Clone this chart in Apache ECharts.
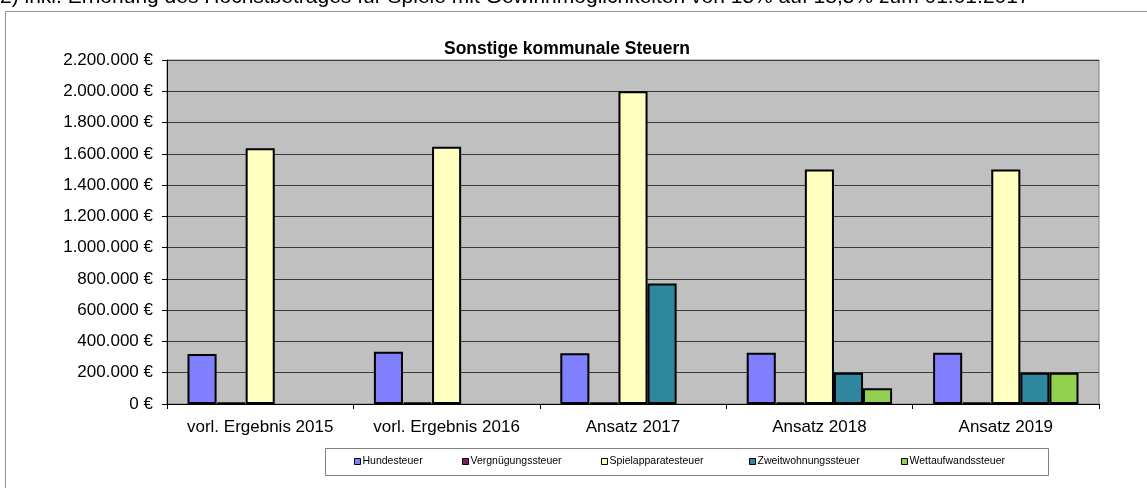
<!DOCTYPE html>
<html><head><meta charset="utf-8">
<script src="https://cdn.jsdelivr.net/npm/echarts@6/dist/echarts.min.js"></script>
<style>html,body{margin:0;padding:0;background:#fff;}#c{width:1147px;height:488px;}</style>
</head><body><div id="c"></div>
<script>
const categories = ['vorl. Ergebnis 2015', 'vorl. Ergebnis 2016', 'Ansatz 2017', 'Ansatz 2018', 'Ansatz 2019'];
const seriesNames = ['Hundesteuer', 'Vergnügungssteuer', 'Spielapparatesteuer', 'Zweitwohnungssteuer', 'Wettaufwandssteuer'];
const hundesteuer = [320000, 334000, 324000, 328000, 328000];
const vergnuegungssteuer = [8000, 8000, 8000, 8000, 8000];
const spielapparatesteuer = [1635000, 1645000, 2000000, 1500000, 1500000];
const zweitwohnungssteuer = [null, null, 770000, 200000, 200000];
const wettaufwandssteuer = [null, null, null, 100000, 200000];
const yTicks = [0, 200000, 400000, 600000, 800000, 1000000, 1200000, 1400000, 1600000, 1800000, 2000000, 2200000];
const titleText = 'Sonstige kommunale Steuern';
const noteText = '2) inkl. Erhöhung des Höchstbetrages für Spiele mit Gewinnmöglichkeiten von 15% auf 18,5% zum 01.01.2017';

const colors = ['#8080FF', '#802060', '#FFFFC0', '#2F879F', '#92D050'];
const values = [hundesteuer, vergnuegungssteuer, spielapparatesteuer, zweitwohnungssteuer, wettaufwandssteuer];
const legendX = [354, 462, 601, 749, 901];
const font = 'Arial, "Liberation Sans", sans-serif';

function fmt(v) {
  return String(v).replace(/\B(?=(\d{3})+(?!\d))/g, '.') + ' €';
}

const chart = echarts.init(document.getElementById('c'));
chart.setOption({
  animation: false,
  textStyle: { fontFamily: font },
  title: {
    text: titleText, left: 562, top: 35, textAlign: 'center',
    textStyle: { fontSize: 17.5, fontWeight: 'bold', color: '#000', fontFamily: font }
  },
  graphic: [
    { type: 'rect', shape: { x: 5.5, y: 11.5, width: 1160, height: 500 }, style: { fill: 'none', stroke: '#909090', lineWidth: 1 }, z: -1 },
    { type: 'text', left: 0, top: -13, style: { text: noteText, fontSize: 21, fill: '#000', fontFamily: font } },
    { type: 'rect', shape: { x: 325.5, y: 448.5, width: 723, height: 27 }, style: { fill: '#fff', stroke: '#808080', lineWidth: 1 }, z: 0 }
  ],
  legend: seriesNames.map((n, i) => ({
    data: [n], left: legendX[i], top: 456, itemWidth: 6, itemHeight: 6, itemGap: 0,
    icon: 'rect', padding: 0, z: 5,
    textStyle: { fontSize: 10.5, color: '#000', fontFamily: font, padding: [0, 0, 0, -3] },
    itemStyle: { borderColor: '#000', borderWidth: 1 }
  })),
  grid: {
    left: 167, right: 48, top: 60, bottom: 84, show: true,
    backgroundColor: '#C0C0C0', borderColor: '#808080', borderWidth: 1
  },
  xAxis: {
    type: 'category', data: categories,
    axisLine: { lineStyle: { color: '#000', width: 1 } },
    axisTick: { show: true, interval: 0, length: 5, lineStyle: { color: '#000' } },
    axisLabel: { interval: 0, fontSize: 17, color: '#000', margin: 15, fontFamily: font }
  },
  yAxis: {
    type: 'value', min: 0, max: yTicks[yTicks.length - 1], interval: yTicks[1] - yTicks[0],
    axisLine: { show: true, lineStyle: { color: '#000', width: 1 } },
    axisTick: { show: true, length: 5, lineStyle: { color: '#000' } },
    axisLabel: { fontSize: 17, color: '#000', margin: 14, formatter: fmt, fontFamily: font },
    splitLine: { show: true, lineStyle: { color: '#3a3a3a', width: 1 } }
  },
  series: seriesNames.map((n, i) => ({
    name: n, type: 'bar', data: values[i],
    barGap: '0%', barCategoryGap: '22%',
    itemStyle: { color: colors[i], borderColor: '#000', borderWidth: 2 }
  }))
});
</script></body></html>
